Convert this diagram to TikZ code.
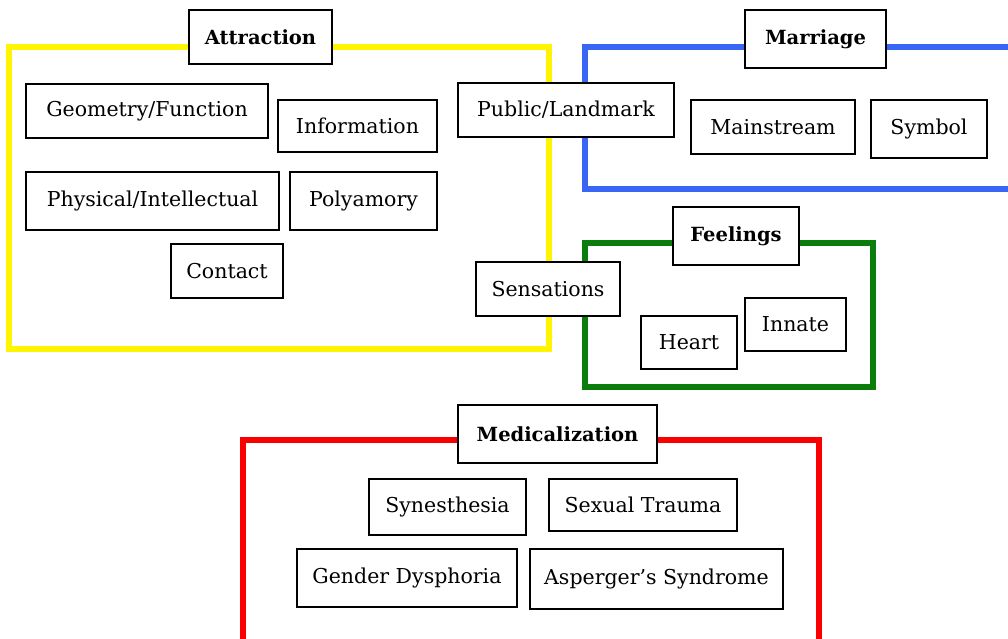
\documentclass[tikz,border=0pt]{standalone}
\usepackage{fontspec}
\setmainfont{DejaVu Serif}
\usepackage{tikz}

\definecolor{attrYellow}{RGB}{255,245,0}
\definecolor{marrBlue}{RGB}{58,102,245}
\definecolor{feelGreen}{RGB}{10,125,10}
\definecolor{mediRed}{RGB}{250,0,0}

\begin{document}
\begin{tikzpicture}[x=1pt,y=-1pt,
  box/.style={draw=black,line width=2.6pt,fill=white,inner sep=0pt,
    font=\fontsize{20.5}{24}\selectfont},
  title/.style={box,font=\fontsize{19.5}{24}\selectfont\bfseries},
  frame/.style={line width=6pt}]
\path[use as bounding box,clip] (0,0) rectangle (1008,638);
% group frames
\draw[frame,attrYellow] (9,47) rectangle (549,349);
\draw[frame,marrBlue] (585,47) rectangle (1030,189);
\draw[frame,feelGreen] (585,243) rectangle (873,387);
\draw[frame,mediRed] (243,440) rectangle (819,660);
% Attraction
\node[title,minimum width=143pt,minimum height=54pt] (attr) at (260.5,37) {Attraction};
\node[box,minimum width=242pt,minimum height=54pt] (geom) at (147,111) {Geometry/Function};
\node[box,minimum width=159pt,minimum height=52pt] (info) at (357.5,126) {Information};
\node[box,minimum width=253pt,minimum height=58pt] (phys) at (152.5,201) {Physical/Intellectual};
\node[box,minimum width=147pt,minimum height=58pt] (poly) at (363.5,201) {Polyamory};
\node[box,minimum width=112pt,minimum height=54pt] (cont) at (227,271) {Contact};
\node[box,minimum width=216pt,minimum height=54pt] (publ) at (566,110) {Public/Landmark};
% Marriage
\node[title,minimum width=141pt,minimum height=58pt] (marr) at (815.5,39) {Marriage};
\node[box,minimum width=164pt,minimum height=54pt] (main) at (773,127) {Mainstream};
\node[box,minimum width=116pt,minimum height=58pt] (symb) at (929,129) {Symbol};
% Feelings
\node[title,minimum width=126pt,minimum height=58pt] (feel) at (736,236) {Feelings};
\node[box,minimum width=144pt,minimum height=54pt] (sens) at (548,289) {Sensations};
\node[box,minimum width=96pt,minimum height=53pt] (heart) at (689,342.5) {Heart};
\node[box,minimum width=101pt,minimum height=53pt] (innate) at (795.5,324.5) {Innate};
% Medicalization
\node[title,minimum width=199pt,minimum height=58pt] (medi) at (557.5,434) {Medicalization};
\node[box,minimum width=157pt,minimum height=56pt] (syne) at (447.5,507) {Synesthesia};
\node[box,minimum width=188pt,minimum height=52pt] (sext) at (643,505) {Sexual Trauma};
\node[box,minimum width=220pt,minimum height=58pt] (gend) at (407,578) {Gender Dysphoria};
\node[box,minimum width=253pt,minimum height=60pt] (aspg) at (656.5,579) {Asperger's Syndrome};
\end{tikzpicture}
\end{document}
